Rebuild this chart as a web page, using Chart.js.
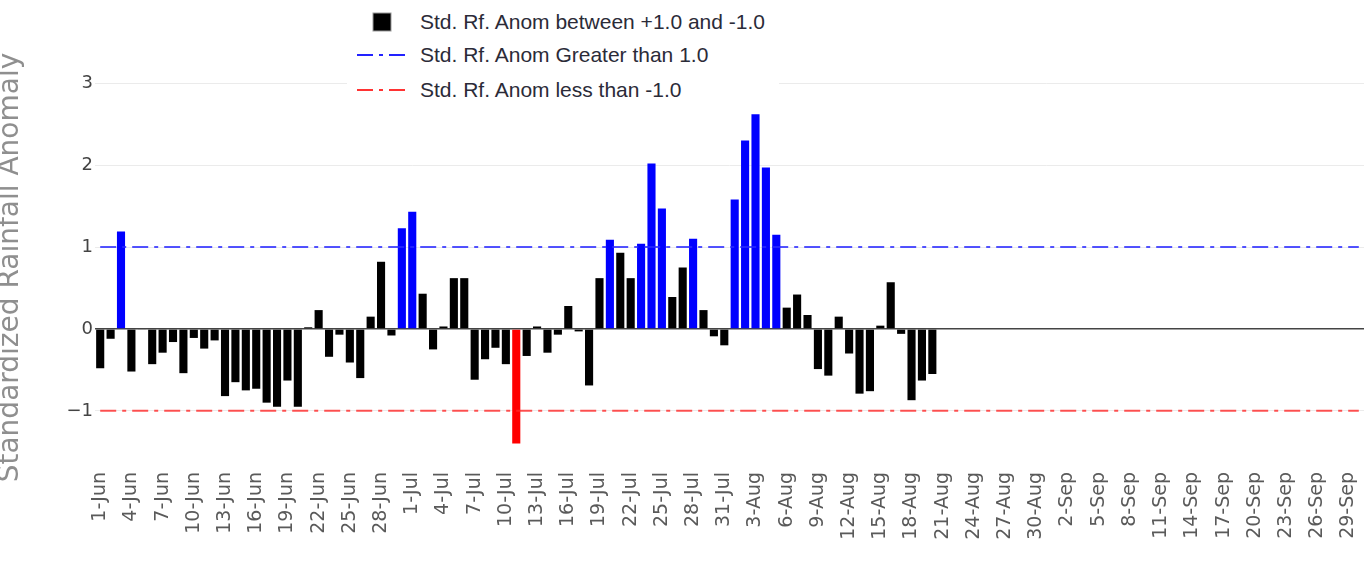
<!DOCTYPE html>
<html>
<head>
<meta charset="utf-8">
<script src="https://cdn.jsdelivr.net/npm/chart.js@4.4.1/dist/chart.umd.min.js"></script>
<style>
  body { margin: 0; background: #fff; }
  #wrap { position: relative; width: 1365px; height: 563px; }
  #legendBox {
    position: absolute; left: 347px; top: 0; width: 432px; height: 104px;
    background: #fff; font-family: "Liberation Sans", Arial, sans-serif;
    font-size: 21px; color: #2b2b38;
  }
  .row { position: absolute; left: 0; height: 24px; line-height: 24px; }
  .row span { position: absolute; left: 73px; white-space: nowrap; }
  .sym { position: absolute; left: 10px; top: 0; }
</style>
</head>
<body>
<div id="wrap">
  <canvas id="myChart" width="1365" height="563"></canvas>
  <div id="legendBox">
    <div class="row" style="top:10px">
      <svg class="sym" width="50" height="24"><rect x="16" y="3" width="18" height="18" fill="#000" stroke="#999" stroke-width="1"/></svg>
      <span>Std. Rf. Anom between +1.0 and -1.0</span>
    </div>
    <div class="row" style="top:43px">
      <svg class="sym" width="50" height="24"><line x1="0" y1="12" x2="48" y2="12" stroke="#2222ff" stroke-width="2" stroke-dasharray="16 6 4 6"/></svg>
      <span>Std. Rf. Anom Greater than 1.0</span>
    </div>
    <div class="row" style="top:78px">
      <svg class="sym" width="50" height="24"><line x1="0" y1="12" x2="48" y2="12" stroke="#ff3333" stroke-width="2" stroke-dasharray="16 6 4 6"/></svg>
      <span>Std. Rf. Anom less than -1.0</span>
    </div>
  </div>
</div>
<script>
// months covered by the season, and their lengths
const months = ["Jun", "Jul", "Aug", "Sep"];
const monthDays = [30, 31, 31, 30];

// daily standardized rainfall anomaly, 1-Jun .. 20-Aug
const anomaly = [
  -0.48, -0.12, 1.19, -0.52, -0.01, -0.43, -0.29, -0.16, -0.54, -0.11,
  -0.24, -0.14, -0.82, -0.65, -0.75, -0.73, -0.90, -0.95, -0.63, -0.95,
  0.02, 0.23, -0.34, -0.07, -0.41, -0.60, 0.15, 0.82, -0.08, 1.23,
  1.43, 0.43, -0.25, 0.03, 0.62, 0.62, -0.62, -0.37, -0.23, -0.43,
  -1.40, -0.33, 0.03, -0.29, -0.07, 0.28, -0.03, -0.69, 0.62, 1.09,
  0.93, 0.62, 1.04, 2.02, 1.47, 0.39, 0.75, 1.10, 0.23, -0.09,
  -0.20, 1.58, 2.30, 2.62, 1.97, 1.15, 0.26, 0.42, 0.17, -0.49,
  -0.57, 0.15, -0.30, -0.79, -0.76, 0.04, 0.57, -0.06, -0.87, -0.63,
  -0.55
];

const upperLimit = 1.0;
const lowerLimit = -1.0;
const yTicks = [-1, 0, 1, 2, 3];

// day labels like "1-Jun"
const dates = [];
months.forEach(function (m, k) {
  for (let d = 1; d <= monthDays[k]; d++) dates.push(d + "-" + m);
});

const barColors = anomaly.map(function (v) {
  if (v > upperLimit) return "#0000ff";
  if (v < lowerLimit) return "#ff0000";
  return "#000000";
});

const firstDay = dates[0];
const lastDay = dates[dates.length - 1];

new Chart(document.getElementById("myChart"), {
  type: "bar",
  data: {
    labels: dates,
    datasets: [
      {
        label: "Std. Rf. Anom between +1.0 and -1.0",
        data: anomaly,
        backgroundColor: barColors,
        borderWidth: 0,
        barPercentage: 0.78,
        categoryPercentage: 1.0,
        order: 2,
      },
      {
        type: "line",
        label: "Std. Rf. Anom Greater than 1.0",
        data: [{ x: firstDay, y: upperLimit }, { x: lastDay, y: upperLimit }],
        borderColor: "rgba(40,40,255,0.8)",
        borderWidth: 2,
        borderDash: [16, 6, 4, 6],
        pointRadius: 0,
        fill: false,
        order: 1,
      },
      {
        type: "line",
        label: "Std. Rf. Anom less than -1.0",
        data: [{ x: firstDay, y: lowerLimit }, { x: lastDay, y: lowerLimit }],
        borderColor: "rgba(255,40,40,0.8)",
        borderWidth: 2,
        borderDash: [16, 6, 4, 6],
        pointRadius: 0,
        fill: false,
        order: 1,
      },
    ],
  },
  options: {
    responsive: false,
    animation: false,
    layout: { padding: { top: 75, right: 1, left: 0, bottom: 0 } },
    plugins: {
      legend: { display: false },
      tooltip: { enabled: false },
    },
    scales: {
      x: {
        grid: { display: false, drawTicks: false },
        border: { display: false },
        ticks: {
          autoSkip: false,
          maxRotation: 90,
          minRotation: 90,
          padding: 12,
          color: "#5a5a5a",
          font: { family: "DejaVu Sans", size: 19 },
          callback: function (val, i) {
            return i % 3 === 0 ? dates[i] : "";
          },
        },
        afterFit: function (scale) {
          scale.height = 103;
          scale.paddingLeft = 0;
          scale.paddingRight = 0;
        },
      },
      y: {
        min: -1.6,
        max: 3.1,
        afterBuildTicks: function (scale) {
          scale.ticks = yTicks.map(function (v) { return { value: v }; });
        },
        grid: {
          drawTicks: false,
          color: function (ctx) {
            return ctx.tick && ctx.tick.value === 0 ? "#444" : "#ebebeb";
          },
          lineWidth: function (ctx) {
            return ctx.tick && ctx.tick.value === 0 ? 1.5 : 1;
          },
        },
        border: { display: false },
        ticks: {
          padding: 2,
          color: "#444",
          font: { family: "DejaVu Sans", size: 18 },
          callback: function (v) {
            return v < 0 ? "\u2212" + Math.abs(v) : String(v);
          },
        },
        title: {
          display: true,
          text: "Standardized Rainfall Anomaly",
          color: "#8f8f8f",
          font: { family: "DejaVu Sans", size: 28, lineHeight: 0.8 },
          padding: 0,
        },
        afterFit: function (scale) {
          scale.width = 95;
          scale.paddingTop = 0;
          scale.paddingBottom = 0;
        },
      },
    },
  },
});
</script>
</body>
</html>
